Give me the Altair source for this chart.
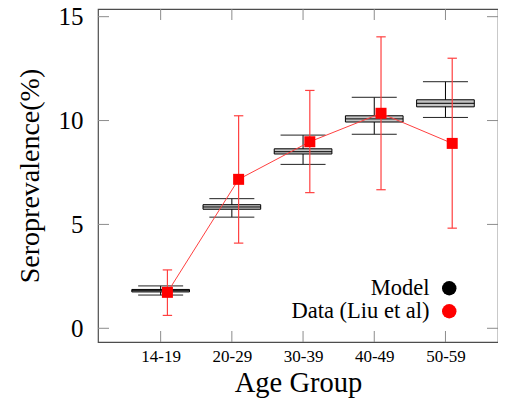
import altair as alt
import pandas as pd

# ---- data ----
categories = ["14-19", "20-29", "30-39", "40-49", "50-59"]
model_q1 = [1.75, 5.73, 8.39, 9.93, 10.66]
model_q3 = [1.87, 5.95, 8.64, 10.23, 11.00]
model_med = [1.81, 5.84, 8.50, 10.08, 10.83]
model_lo = [1.60, 5.35, 7.89, 9.34, 10.15]
model_hi = [2.04, 6.24, 9.30, 11.12, 11.87]
data_val = [1.73, 7.17, 8.98, 10.35, 8.90]
data_lo = [0.62, 4.10, 6.53, 6.67, 4.82]
data_hi = [2.81, 10.23, 11.45, 14.03, 13.00]
y_ticks = [0, 5, 10, 15]
series_names = ["Model", "Data (Liu et al)"]
series_colors = ["black", "red"]

idx = list(range(len(categories)))
model_df = pd.DataFrame({"i": idx, "cat": categories, "q1": model_q1, "q3": model_q3,
                         "med": model_med, "lo": model_lo, "hi": model_hi})
data_df = pd.DataFrame({"i": idx, "cat": categories, "v": data_val, "lo": data_lo,
                        "hi": data_hi, "series": [series_names[1]] * len(idx)})
ytick_df = pd.DataFrame({"v": y_ticks})
xtick_df = pd.DataFrame({"i": idx})

W, H = 400, 333
FONT = "Liberation Serif"
xs = alt.Scale(domain=[-0.88, 4.738], nice=False, zero=False)
ys = alt.Scale(domain=[-0.66, 15.37], nice=False, zero=False)

label_expr = "[" + ",".join("'%s'" % c for c in categories) + "][datum.value]"

XA = alt.Axis(values=idx, labelExpr=label_expr, title="Age Group", ticks=False,
              domain=False, grid=False, labelFont=FONT, labelFontSize=17, labelColor="black",
              labelPadding=6, titleFont=FONT, titleFontSize=28.5, titleFontWeight="normal",
              titleColor="black", titlePadding=4)
YA = alt.Axis(values=y_ticks, title="Seroprevalence(%)", ticks=False,
              domain=False, grid=False, labelFont=FONT, labelFontSize=25, labelColor="black",
              labelPadding=15, titleFont=FONT, titleFontSize=28, titleFontWeight="normal",
              titleColor="black", titlePadding=14)


def X(f):
    return alt.X(f, scale=xs, axis=XA)


def Y(f):
    return alt.Y(f, scale=ys, axis=YA)


mbase = alt.Chart(model_df).transform_calculate(
    a="datum.i - 0.405", b="datum.i + 0.405", ca="datum.i - 0.316", cb="datum.i + 0.316")

whisk = mbase.mark_rule(color="black", strokeWidth=1).encode(
    x=X("i:Q"), y=Y("lo:Q"), y2="hi:Q")
cap_hi = mbase.mark_rule(color="#222", strokeWidth=1).encode(
    x=X("ca:Q"), x2="cb:Q", y=Y("hi:Q"))
cap_lo = mbase.mark_rule(color="#222", strokeWidth=1).encode(
    x=X("ca:Q"), x2="cb:Q", y=Y("lo:Q"))
box = mbase.mark_bar(fill="#c4c4c4", stroke="black", strokeWidth=1).encode(
    x=X("a:Q"), x2="b:Q", y=Y("q1:Q"), y2="q3:Q")
median = mbase.mark_rule(color="black", strokeWidth=1).encode(
    x=X("a:Q"), x2="b:Q", y=Y("med:Q"))

TICK = "#8c8c8c"
yt_left = alt.Chart(ytick_df).mark_rule(color=TICK, strokeWidth=1).encode(
    y=Y("v:Q"), x=alt.value(0), x2=alt.value(11))
yt_right = alt.Chart(ytick_df).mark_rule(color=TICK, strokeWidth=1).encode(
    y=Y("v:Q"), x=alt.value(W - 11), x2=alt.value(W))
xt_top = alt.Chart(xtick_df).mark_rule(color=TICK, strokeWidth=1).encode(
    x=X("i:Q"), y=alt.value(0), y2=alt.value(11))
xt_bot = alt.Chart(xtick_df).mark_rule(color=TICK, strokeWidth=1).encode(
    x=X("i:Q"), y=alt.value(H - 11), y2=alt.value(H))

dbase = alt.Chart(data_df).transform_calculate(xo="datum.i + 0.095",
                                               ca="datum.i + 0.095 - 0.066",
                                               cb="datum.i + 0.095 + 0.066")
RED_L = "#ff4040"
line = dbase.mark_line(color=RED_L, strokeWidth=1).encode(x=X("xo:Q"), y=Y("v:Q"))
err = dbase.mark_rule(color=RED_L, strokeWidth=1.2).encode(x=X("xo:Q"), y=Y("lo:Q"), y2="hi:Q")
ecap_hi = dbase.mark_rule(color=RED_L, strokeWidth=1.2).encode(x=X("ca:Q"), x2="cb:Q", y=Y("hi:Q"))
ecap_lo = dbase.mark_rule(color=RED_L, strokeWidth=1.2).encode(x=X("ca:Q"), x2="cb:Q", y=Y("lo:Q"))
pts = dbase.mark_square(size=121, opacity=1).encode(
    x=X("xo:Q"), y=Y("v:Q"),
    color=alt.Color("series:N", scale=alt.Scale(domain=series_names, range=series_colors),
                    legend=alt.Legend(title=None, orient="none", legendX=340, legendY=268,
                                      symbolType="circle", symbolSize=210, symbolStrokeWidth=0,
                                      labelFont=FONT, labelFontSize=22.5, labelColor="black",
                                      labelAlign="right", labelOffset={"expr": "-31"},
                                      rowPadding=0, padding=0)))

chart = alt.layer(yt_left, yt_right, xt_top, xt_bot, whisk, cap_hi, cap_lo, box, median,
                  line, err, ecap_hi, ecap_lo, pts).properties(
    width=W, height=H,
    padding={"left": 90, "top": 1, "right": 0, "bottom": 56},
    autosize=alt.AutoSizeParams(type="none"),
    background="white",
).configure_view(stroke="#4d4d4d", strokeWidth=1.2)

chart.save("out.html", embed_options={"renderer": "svg", "actions": False})
